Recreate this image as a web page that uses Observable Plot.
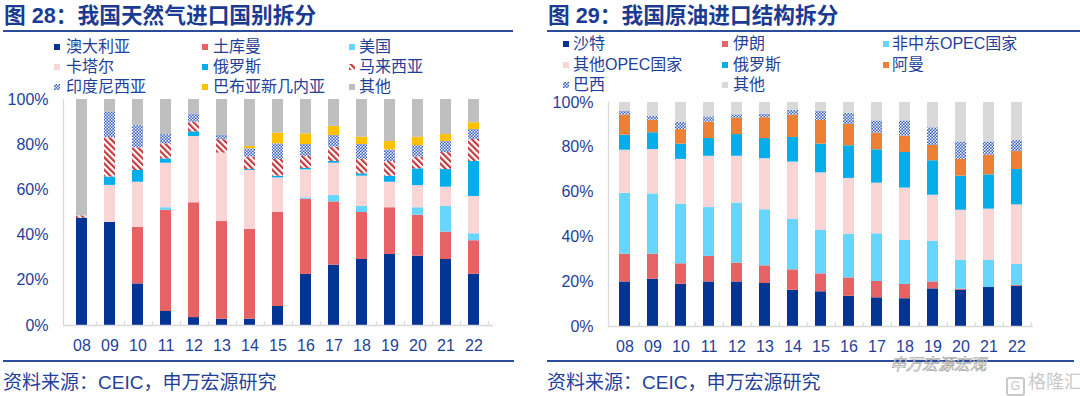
<!DOCTYPE html>
<html>
<head>
<meta charset="utf-8">
<script src="https://cdn.jsdelivr.net/npm/d3@7"></script>
<script src="https://cdn.jsdelivr.net/npm/@observablehq/plot@0.6"></script>
<style>
  body { margin:0; width:1080px; height:396px; background:#fff; overflow:hidden; position:relative;
         font-family:"Liberation Sans","Noto Sans CJK SC",sans-serif; color:#1f3f99; }
  .title { position:absolute; top:5px; font-size:21.7px; line-height:22px; font-weight:bold; color:#1b3b92; white-space:nowrap; }
  .rule { position:absolute; height:2px; background:#2b4c9e; }
  .leg { position:absolute; font-size:16px; line-height:18px; white-space:nowrap; color:#1f3f99; }
  .sw { position:absolute; width:6px; height:6px; }
  .chart { position:absolute; }
  .source { position:absolute; top:373px; font-size:19px; line-height:20px; color:#1f3f99; white-space:nowrap; }
  .wm { position:absolute; left:890px; top:357px; font-size:16px; line-height:16px; color:rgba(255,255,255,0.85);
        -webkit-text-stroke:0.5px #8a8a8a; font-style:italic; white-space:nowrap; }
  .glh { position:absolute; left:1006px; top:372px; font-size:18px; line-height:20px; color:#c9c9c9; white-space:nowrap; }
  .glh span { display:inline-block; width:15px; height:15px; border:2px solid #c9c9c9; border-radius:3px; font-size:12px; line-height:15px; text-align:center; margin-right:3px; vertical-align:-2px; }
</style>
</head>
<body>
<svg width="0" height="0" style="position:absolute">
  <defs>
    <pattern id="hatchRed" patternUnits="userSpaceOnUse" width="4.4" height="4.4" patternTransform="rotate(-45)">
      <rect width="4.4" height="4.4" fill="#ffffff"/>
      <rect width="2.2" height="4.4" fill="#c23a3c"/>
    </pattern>
    <pattern id="checkBlue" patternUnits="userSpaceOnUse" width="3" height="3">
      <rect width="3" height="3" fill="#3a5fbf"/>
      <rect x="0" y="0" width="1.5" height="1.5" fill="#ffffff"/>
      <rect x="1.5" y="1.5" width="1.5" height="1.5" fill="#dfe7f7"/>
    </pattern>
  </defs>
</svg>

<div class="title" style="left:4px;">图 28：我国天然气进口国别拆分</div>
<div class="rule" style="left:3px; top:30px; width:510px;"></div>
<div class="title" style="left:548px;">图 29：我国原油进口结构拆分</div>
<div class="rule" style="left:547px; top:30px; width:533px;"></div>

<div id="legGas"></div>
<div id="legOil"></div>
<div id="chartGas" class="chart" style="left:0px; top:92px;"></div>
<div id="chartOil" class="chart" style="left:540px; top:92px;"></div>

<div class="rule" style="left:3px; top:360px; width:511px;"></div>
<div class="rule" style="left:547px; top:360px; width:527px;"></div>
<div class="source" style="left:3px;">资料来源：CEIC，申万宏源研究</div>
<div class="source" style="left:547px;">资料来源：CEIC，申万宏源研究</div>
<div class="wm">申万宏源宏观</div>
<div class="glh"><span>G</span>格隆汇</div>

<script>
// ---------- Data: natural gas imports by country (%) ----------
const years = ["08","09","10","11","12","13","14","15","16","17","18","19","20","21","22"];
const gasSeries = ["澳大利亚","土库曼","美国","卡塔尔","俄罗斯","马来西亚","印度尼西亚","巴布亚新几内亚","其他"];
const gasAustralia = [47.5,45.6,18.4,6.2,3.5,2.8,2.8,8.4,22.6,26.7,29.2,31.4,30.7,29.2,22.7];
const gasTurkmen   = [0,0,25.0,44.8,50.8,43.2,39.7,41.6,33.3,28.0,20.8,20.7,18.1,12.1,14.8];
const gasUSA       = [0,0,0,1.1,0,0,0,0,0.6,2.8,2.7,0,3.3,11.4,3.1];
const gasQatar     = [0,16.4,20.0,19.7,29.3,30.3,26.1,15.3,12.4,14.3,13.4,11.3,9.8,8.5,16.5];
const gasRussia    = [0,3.7,5.2,1.9,2.1,0,0.4,0.8,0.6,0.8,1.0,2.7,7.4,7.8,15.5];
const gasMalaysia  = [1.0,17.4,10.0,6.7,4.3,5.9,5.5,7.4,5.3,6.3,6.4,6.5,5.2,7.5,9.7];
const gasIndonesia = [0,11.2,10.0,4.1,3.4,1.9,3.7,6.9,5.3,5.2,6.6,5.1,5.1,4.9,4.4];
const gasPNG       = [0,0,0,0,0,0,1.0,4.7,4.7,4.0,3.2,3.7,3.7,3.1,3.0];
const gasOther     = [51.5,5.7,11.4,15.5,6.6,15.9,20.8,14.9,15.2,11.9,16.7,18.6,16.7,15.5,10.3];
const gasValues = [gasAustralia,gasTurkmen,gasUSA,gasQatar,gasRussia,gasMalaysia,gasIndonesia,gasPNG,gasOther];

// ---------- Data: crude oil imports structure (%) ----------
const oilSeries = ["沙特","伊朗","非中东OPEC国家","其他OPEC国家","俄罗斯","阿曼","巴西","其他"];
const oilSaudi     = [19.9,21.1,18.9,19.9,19.9,19.2,16.2,15.5,13.5,12.8,12.4,16.8,16.1,17.4,18.0];
const oilIran      = [12.4,11.2,9.1,11.4,8.4,7.9,9.1,8.0,8.2,7.3,6.4,3.1,0.6,0,0.3];
const oilNonME     = [27.2,26.9,26.6,21.8,26.8,25.0,22.5,19.5,19.4,21.3,19.6,18.2,12.8,12.1,9.4];
const oilOtherOpec = [19.2,19.8,20.0,22.9,20.9,22.8,25.6,25.6,25.0,22.6,23.4,20.5,22.4,22.9,26.6];
const oilRussia    = [6.7,7.5,6.8,7.9,9.7,9.0,11.0,12.8,14.6,14.9,15.9,15.4,15.2,15.3,15.8];
const oilOman      = [8.9,5.6,6.5,7.3,7.2,9.3,9.9,10.6,9.5,7.4,7.3,6.8,7.5,8.8,8.0];
const oilBrazil    = [1.7,1.8,3.2,2.4,1.6,1.6,2.3,4.0,5.0,5.5,6.8,7.9,7.8,5.9,5.1];
const oilOther     = [4.0,6.1,8.9,6.4,5.5,5.2,3.4,4.0,4.8,8.2,8.2,11.3,17.6,17.6,16.8];
const oilValues = [oilSaudi,oilIran,oilNonME,oilOtherOpec,oilRussia,oilOman,oilBrazil,oilOther];

const yTicks = [0,20,40,60,80,100];

// ---------- Styles (kept apart from data) ----------
const gasColors = ["#013493","#e66265","#66d6ff","#f9d5d6","#05aeea","url(#hatchRed)","url(#checkBlue)","#ffc000","#bfbfbf"];
const oilColors = ["#013493","#e66265","#66d6ff","#f9d5d6","#05aeea","#ee8035","url(#checkBlue)","#d9d9d9"];
const textBlue = "#1f3f99";
const axisGray = "#d9d9d9";

function toRows(series, values) {
  const rows = [];
  series.forEach((s, i) => years.forEach((y, j) => rows.push({year: y, series: s, value: values[i][j]})));
  return rows;
}

function makeChart(series, values, colors, w, h, m) {
  const plotW = w - m.left - m.right;
  const step = plotW / years.length;
  return Plot.plot({
    width: w, height: h,
    marginLeft: m.left, marginRight: m.right, marginTop: m.top, marginBottom: m.bottom,
    style: {fontFamily: '"Liberation Sans","Noto Sans CJK SC",sans-serif', background: "transparent", overflow: "visible"},
    x: {domain: years, paddingInner: 0.6, paddingOuter: 0.3, axis: null},
    y: {domain: [0, 100], axis: null},
    color: {domain: series, range: colors},
    marks: [
      Plot.frame({anchor: "left", stroke: axisGray, strokeWidth: 1.3}),
      Plot.barY(toRows(series, values), {x: "year", y: "value", fill: "series", order: series}),
      Plot.ruleY([0], {stroke: axisGray, strokeWidth: 1.6}),
      Plot.ruleX(years, {x: d => d, dx: step / 2, y1: 0, y2: 1.8, stroke: axisGray, strokeWidth: 1.2}),
      Plot.axisY({ticks: yTicks, tickFormat: d => d + "%", tickSize: 0, tickPadding: 15, fontSize: 16, fill: textBlue, label: null}),
      Plot.axisX({tickSize: 0, tickPadding: 14, fontSize: 16, fill: textBlue, label: null})
    ]
  });
}

document.getElementById("chartGas").append(
  makeChart(gasSeries, gasValues, gasColors, 515, 262, {left: 63, right: 22, top: 7, bottom: 29}));
document.getElementById("chartOil").append(
  makeChart(oilSeries, oilValues, oilColors, 520, 262, {left: 68, right: 27, top: 10, bottom: 28}));

// ---------- Legends ----------
function legend(containerId, series, colors, cols, rows) {
  const el = document.getElementById(containerId);
  series.forEach((s, i) => {
    const c = cols[i % 3], r = rows[Math.floor(i / 3)];
    const sw = document.createElementNS("http://www.w3.org/2000/svg", "svg");
    sw.setAttribute("width", 6); sw.setAttribute("height", 6);
    sw.setAttribute("class", "sw");
    sw.style.left = c.sw + "px"; sw.style.top = (r - 3) + "px";
    const rect = document.createElementNS("http://www.w3.org/2000/svg", "rect");
    rect.setAttribute("width", 6); rect.setAttribute("height", 6); rect.setAttribute("fill", colors[i]);
    sw.append(rect);
    el.append(sw);
    const t = document.createElement("div");
    t.className = "leg"; t.textContent = s;
    t.style.left = c.tx + "px"; t.style.top = (r - 9) + "px";
    el.append(t);
  });
}
legend("legGas", gasSeries, gasColors,
  [{sw: 54, tx: 66}, {sw: 202, tx: 213}, {sw: 349, tx: 359}], [47, 67, 87]);
legend("legOil", oilSeries, oilColors,
  [{sw: 563, tx: 573}, {sw: 722, tx: 733}, {sw: 883, tx: 892}], [44, 64.5, 85]);
</script>
</body>
</html>
